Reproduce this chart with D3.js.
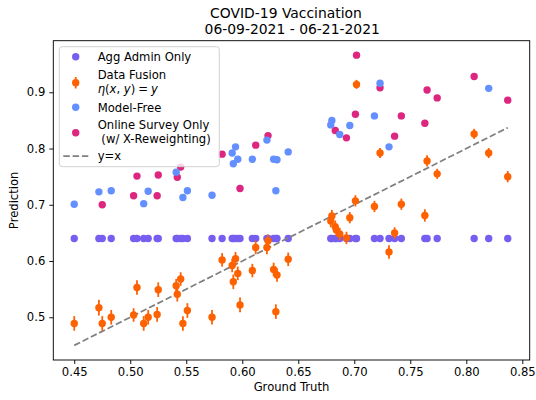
<!DOCTYPE html>
<html>
<head>
<meta charset="utf-8">
<script src="https://cdn.jsdelivr.net/npm/d3@7"></script>
<style>
  html, body { margin: 0; padding: 0; background: #fff; }
  svg { display: block; font-family: "DejaVu Sans", sans-serif; }
</style>
</head>
<body>
<svg id="chart" width="536" height="400"></svg>
<script>
// ---- Data ----
const groundTruth = [0.450, 0.472, 0.475, 0.483, 0.503, 0.506, 0.512, 0.516, 0.524, 0.525,
  0.541, 0.542, 0.545, 0.547, 0.551, 0.573, 0.582, 0.591, 0.592, 0.594,
  0.596, 0.598, 0.609, 0.612, 0.622, 0.623, 0.628, 0.631, 0.630, 0.641,
  0.680, 0.679, 0.683, 0.684, 0.687, 0.693, 0.696, 0.701, 0.702, 0.718,
  0.723, 0.731, 0.736, 0.742, 0.763, 0.765, 0.774, 0.807, 0.820, 0.837];
const aggAdmin = [0.64, 0.64, 0.64, 0.64, 0.64, 0.64, 0.64, 0.64, 0.64, 0.64,
  0.64, 0.64, 0.64, 0.64, 0.64, 0.64, 0.64, 0.64, 0.64, 0.64,
  0.64, 0.64, 0.64, 0.64, 0.64, 0.64, 0.64, 0.64, 0.64, 0.64,
  0.64, 0.64, 0.64, 0.64, 0.64, 0.64, 0.64, 0.64, 0.64, 0.64,
  0.64, 0.64, 0.64, 0.64, 0.64, 0.64, 0.64, 0.64, 0.64, 0.64];
const dataFusion = [0.489, 0.517, 0.489, 0.500, 0.504, 0.553, 0.489, 0.500, 0.505, 0.549,
  0.556, 0.541, 0.568, 0.489, 0.512, 0.500, 0.602, 0.592, 0.563, 0.604,
  0.578, 0.522, 0.583, 0.624, 0.624, 0.636, 0.585, 0.575, 0.510, 0.603,
  0.680, 0.671, 0.661, 0.655, 0.648, 0.641, 0.677, 0.707, 0.914, 0.697,
  0.792, 0.616, 0.650, 0.701, 0.681, 0.778, 0.755, 0.826, 0.792, 0.750];
const dataFusionErr = [0.013, 0.014, 0.013, 0.013, 0.012, 0.013, 0.013, 0.013, 0.013, 0.013,
  0.012, 0.013, 0.012, 0.013, 0.013, 0.013, 0.012, 0.012, 0.013, 0.012,
  0.012, 0.013, 0.012, 0.012, 0.012, 0.011, 0.012, 0.012, 0.013, 0.012,
  0.011, 0.011, 0.011, 0.011, 0.011, 0.011, 0.010, 0.010, 0.008, 0.010,
  0.009, 0.012, 0.010, 0.010, 0.011, 0.010, 0.009, 0.009, 0.009, 0.010];
const modelFreeTruth = [0.450, 0.472, 0.483, 0.512, 0.516, 0.541, 0.547, 0.551, 0.573, 0.591,
  0.592, 0.594, 0.596, 0.609, 0.622, 0.628, 0.631, 0.630, 0.641, 0.680,
  0.679, 0.687, 0.696, 0.718, 0.723, 0.731, 0.820];
const modelFreePred = [0.701, 0.723, 0.725, 0.702, 0.724, 0.758, 0.713, 0.725, 0.717, 0.792,
  0.773, 0.803, 0.781, 0.781, 0.815, 0.781, 0.780, 0.725, 0.794, 0.850,
  0.842, 0.825, 0.841, 0.858, 0.916, 0.803, 0.907];
const surveyTruth = [0.475, 0.503, 0.506, 0.524, 0.525, 0.542, 0.545, 0.582, 0.598, 0.612,
  0.623, 0.683, 0.693, 0.702, 0.701, 0.723, 0.736, 0.742, 0.763, 0.765,
  0.774, 0.807, 0.837];
const surveyPred = [0.700, 0.716, 0.751, 0.716, 0.753, 0.749, 0.767, 0.790, 0.729, 0.806,
  0.823, 0.832, 0.819, 0.966, 0.861, 0.908, 0.822, 0.858, 0.845, 0.904,
  0.890, 0.928, 0.886];
const xTicks = [0.45, 0.50, 0.55, 0.60, 0.65, 0.70, 0.75, 0.80, 0.85];
const yTicks = [0.5, 0.6, 0.7, 0.8, 0.9];
const titleLines = ["COVID-19 Vaccination", " 06-09-2021 - 06-21-2021"];
const legendLabels = ["Agg Admin Only", "Data Fusion", "Model-Free", "Online Survey Only", " (w/ X-Reweighting)", "y=x"];

const colors = { agg: "#785EF0", fusion: "#FE6100", mf: "#648FFF", survey: "#DC267F", line: "#808080" };

// ---- Layout ----
const W = 536, H = 400;
const m = { left: 53.3, top: 40.7, right: 529.7, bottom: 360 };
const svg = d3.select("#chart");

const x = d3.scaleLinear().domain([0.4313, 0.8566]).range([m.left, m.right]);
const y = d3.scaleLinear().domain([0.4240, 0.9917]).range([m.bottom, m.top]);
const R = 3.7;

const plot = svg.append("g");

// scatter: Agg Admin
plot.append("g").selectAll("circle").data(groundTruth).join("circle")
  .attr("cx", d => x(d)).attr("cy", (d, i) => y(aggAdmin[i])).attr("r", R)
  .attr("fill", colors.agg);

// scatter: Online survey
plot.append("g").selectAll("circle").data(surveyTruth).join("circle")
  .attr("cx", d => x(d)).attr("cy", (d, i) => y(surveyPred[i])).attr("r", R)
  .attr("fill", colors.survey);

// scatter: Model-Free
plot.append("g").selectAll("circle").data(modelFreeTruth).join("circle")
  .attr("cx", d => x(d)).attr("cy", (d, i) => y(modelFreePred[i])).attr("r", R)
  .attr("fill", colors.mf);

// y = x line
const gtMin = d3.min(groundTruth), gtMax = d3.max(groundTruth);
plot.append("line")
  .attr("x1", x(gtMin)).attr("y1", y(gtMin)).attr("x2", x(gtMax)).attr("y2", y(gtMax))
  .attr("stroke", colors.line).attr("stroke-width", 1.75)
  .attr("stroke-dasharray", "6.5,2.8");

// Data fusion error bars
const fg = plot.append("g");
groundTruth.forEach((gt, i) => {
  fg.append("line")
    .attr("x1", x(gt)).attr("x2", x(gt))
    .attr("y1", y(dataFusion[i] - dataFusionErr[i])).attr("y2", y(dataFusion[i] + dataFusionErr[i]))
    .attr("stroke", colors.fusion).attr("stroke-width", 1.8);
  fg.append("circle")
    .attr("cx", x(gt)).attr("cy", y(dataFusion[i])).attr("r", R)
    .attr("fill", colors.fusion);
});

// ---- Axes ----
const xAxis = d3.axisBottom(x).tickValues(xTicks).tickFormat(d3.format(".2f")).tickSize(4).tickPadding(4);
const yAxis = d3.axisLeft(y).tickValues(yTicks).tickFormat(d3.format(".1f")).tickSize(4).tickPadding(4);

const gx = svg.append("g").attr("transform", `translate(0,${m.bottom})`).call(xAxis);
const gy = svg.append("g").attr("transform", `translate(${m.left},0)`).call(yAxis);
[gx, gy].forEach(g => {
  g.select(".domain").remove();
  g.selectAll(".tick line").attr("stroke", "#000").attr("stroke-width", 0.93);
  g.selectAll(".tick text").attr("fill", "#000").style("font-size", "11.6px").style("font-family", "DejaVu Sans");
});

// frame
svg.append("rect")
  .attr("x", m.left).attr("y", m.top)
  .attr("width", m.right - m.left).attr("height", m.bottom - m.top)
  .attr("fill", "none").attr("stroke", "#000").attr("stroke-width", 0.93);

// ---- Labels ----
svg.append("text").attr("x", (m.left + m.right) / 2).attr("y", 391)
  .attr("text-anchor", "middle").style("font-size", "11.6px").text("Ground Truth");
svg.append("text").attr("transform", `translate(18,${(m.top + m.bottom) / 2}) rotate(-90)`)
  .attr("text-anchor", "middle").style("font-size", "11.6px").text("Prediction");

svg.append("text").attr("x", 286).attr("y", 17.5)
  .attr("text-anchor", "middle").style("font-size", "13.9px").text(titleLines[0]);
svg.append("text").attr("x", 290).attr("y", 34)
  .attr("text-anchor", "middle").style("font-size", "13.9px").style("white-space", "pre").text(titleLines[1]);

// ---- Legend ----
const lg = svg.append("g");
lg.append("rect").attr("x", 59.3).attr("y", 46.7).attr("width", 160).attr("height", 120)
  .attr("rx", 3).attr("fill", "#fff").attr("fill-opacity", 0.8)
  .attr("stroke", "#cccccc").attr("stroke-width", 0.93);
const mx = 75.7, tx = 97.7, fs = "11.6px";
function ltext(yy, s) {
  return lg.append("text").attr("x", tx).attr("y", yy).style("font-size", fs).style("white-space", "pre").text(s);
}
lg.append("circle").attr("cx", mx).attr("cy", 56.7).attr("r", R).attr("fill", colors.agg);
ltext(60.9, legendLabels[0]);

lg.append("line").attr("x1", mx).attr("x2", mx).attr("y1", 77).attr("y2", 88.5)
  .attr("stroke", colors.fusion).attr("stroke-width", 1.8);
lg.append("circle").attr("cx", mx).attr("cy", 82.7).attr("r", R).attr("fill", colors.fusion);
ltext(78.5, legendLabels[1]);
const mt = lg.append("text").attr("x", tx).attr("y", 92.5).style("font-size", fs);
mt.append("tspan").style("font-style", "italic").text("η");
mt.append("tspan").text("(");
mt.append("tspan").style("font-style", "italic").text("x");
mt.append("tspan").text(", ");
mt.append("tspan").style("font-style", "italic").text("y");
mt.append("tspan").text(")");
mt.append("tspan").attr("dx", 3).text("=");
mt.append("tspan").attr("dx", 3).style("font-style", "italic").text("y");

lg.append("circle").attr("cx", mx).attr("cy", 107.3).attr("r", R).attr("fill", colors.mf);
ltext(111.5, legendLabels[2]);

lg.append("circle").attr("cx", mx).attr("cy", 132.7).attr("r", R).attr("fill", colors.survey);
ltext(129, legendLabels[3]);
ltext(142.5, legendLabels[4]);

lg.append("line").attr("x1", 63.3).attr("x2", 88.3).attr("y1", 156).attr("y2", 156)
  .attr("stroke", colors.line).attr("stroke-width", 1.75).attr("stroke-dasharray", "6.5,2.8");
ltext(160.2, legendLabels[5]);
</script>
</body>
</html>
